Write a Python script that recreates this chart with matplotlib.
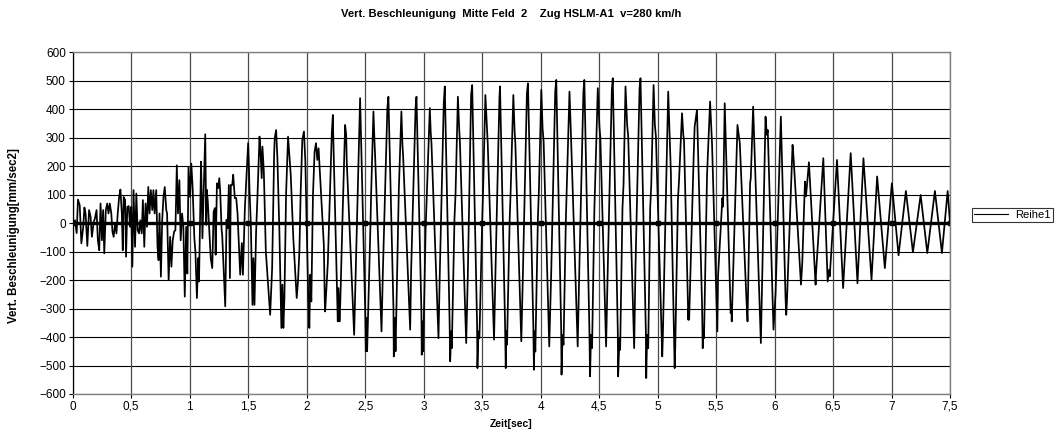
import matplotlib
matplotlib.use("Agg")
import matplotlib.pyplot as plt

plt.rcParams['font.family'] = ['Liberation Sans', 'DejaVu Sans']

title = "Vert. Beschleunigung  Mitte Feld  2    Zug HSLM-A1  v=280 km/h"
x_label = "Zeit[sec]"
y_label = "Vert. Beschleunigung[mm/sec2]"
series_name = "Reihe1"

x_ticks = [0, 0.5, 1, 1.5, 2, 2.5, 3, 3.5, 4, 4.5, 5, 5.5, 6, 6.5, 7, 7.5]
x_tick_labels = ["0", "0,5", "1", "1,5", "2", "2,5", "3", "3,5", "4", "4,5",
                 "5", "5,5", "6", "6,5", "7", "7,5"]
y_ticks = list(range(-600, 601, 100))

# (time [s], acceleration [mm/s2])
seg_0_1 = [(0.000, 0), (0.020, 10), (0.034, -35), (0.045, 83), (0.060, 63), (0.074, -71),
           (0.090, -13), (0.100, 55), (0.110, 34), (0.125, -80), (0.140, 46), (0.153, 22),
           (0.164, -48), (0.180, 5), (0.190, 16), (0.204, 46), (0.215, -60), (0.227, -95),
           (0.238, 69), (0.250, -60), (0.260, 46), (0.270, -106), (0.283, 46), (0.295, 69),
           (0.306, 34), (0.317, 69), (0.330, 34), (0.340, -30), (0.350, -48), (0.363, 0),
           (0.374, -36), (0.385, 34), (0.397, 92), (0.408, 118), (0.420, 34), (0.428, -95),
           (0.436, 92), (0.448, 81), (0.456, -118), (0.467, 57), (0.479, 60), (0.490, -13),
           (0.500, 57), (0.510, -153), (0.520, 116), (0.533, -83), (0.544, 104), (0.555, -25),
           (0.567, -36), (0.578, 10), (0.590, -36), (0.600, 81), (0.612, -83), (0.623, 69),
           (0.635, -13), (0.646, 127), (0.657, 34), (0.668, 116), (0.680, 46), (0.690, 116),
           (0.700, 34), (0.714, 116), (0.725, -83), (0.734, -130), (0.742, 34), (0.754, -188),
           (0.765, 10), (0.776, 92), (0.787, 127), (0.800, 46), (0.807, 34), (0.820, -200),
           (0.833, -48), (0.844, -153), (0.855, -60), (0.867, -30), (0.878, -25), (0.890, 203),
           (0.900, 34), (0.912, 151), (0.923, -60), (0.935, 34), (0.946, -13), (0.958, -258),
           (0.970, -13), (0.980, -177), (0.990, 198), (1.003, 92), (1.014, 209), (1.025, 127),
           (1.037, -13)]

seg_1_2 = [(1.040, -53), (1.049, -100), (1.062, -263), (1.073, -123), (1.080, -205),
           (1.097, 216), (1.103, 99), (1.109, -53), (1.133, 312), (1.142, -6), (1.147, 117),
           (1.155, 76), (1.168, -29), (1.180, -123), (1.193, -158), (1.205, 41), (1.216, 53),
           (1.222, -111), (1.233, 140), (1.244, 123), (1.253, 158), (1.261, 111), (1.273, -23),
           (1.278, -41), (1.304, -292), (1.315, 12), (1.324, -18), (1.335, 134), (1.344, -193),
           (1.352, 134), (1.364, 134), (1.372, 170), (1.386, 88), (1.398, 88), (1.409, 35),
           (1.432, -181), (1.446, -70), (1.455, -181), (1.472, 53), (1.489, 193), (1.500, 281),
           (1.506, 205), (1.511, 123), (1.523, -6), (1.537, -287), (1.545, -123), (1.554, -287),
           (1.568, -29), (1.580, 99), (1.597, 304), (1.605, 257), (1.616, 158), (1.622, 269),
           (1.634, 181), (1.651, -99), (1.670, -216), (1.688, -322), (1.705, -158), (1.722, 240),
           (1.727, 298), (1.739, 327), (1.750, 228), (1.767, -29), (1.784, -368), (1.793, -216),
           (1.801, -368), (1.810, -263), (1.824, 99), (1.841, 304), (1.852, 240), (1.864, 170),
           (1.886, -53), (1.909, -216), (1.915, -263), (1.926, -205), (1.938, -99), (1.949, 111),
           (1.963, 292), (1.977, 322), (1.989, 216), (2.000, -6), (2.014, -263), (2.023, -368),
           (2.031, -181), (2.040, -275), (2.054, 99), (2.068, 251), (2.080, 281), (2.091, 222),
           (2.102, 263)]

seg_2_3 = [(2.147, -76), (2.155, -275), (2.158, -310), (2.175, -181), (2.181, -140),
           (2.215, 316), (2.224, 380), (2.227, 316), (2.266, -345), (2.272, -228), (2.281, -345),
           (2.287, -287), (2.301, -64), (2.309, 53), (2.329, 345), (2.338, 310), (2.343, 216),
           (2.406, -392), (2.418, -193), (2.452, 380), (2.457, 439), (2.500, -298), (2.506, -450),
           (2.511, -333), (2.517, -450), (2.546, 0), (2.551, 99), (2.571, 392), (2.580, 287),
           (2.585, 240), (2.640, -380), (2.651, -181), (2.690, 404), (2.699, 444), (2.742, -298),
           (2.745, -468), (2.754, -333), (2.760, -450), (2.782, 0), (2.788, 117), (2.810, 392),
           (2.819, 275), (2.825, 234), (2.885, -374), (2.893, -170), (2.931, 404), (2.939, 444),
           (2.981, -310), (2.984, -462), (2.993, -345), (2.996, -450), (3.018, -6), (3.027, 94),
           (3.053, 404), (3.061, 316), (3.067, 281), (3.127, -404), (3.138, -181), (3.172, 420),
           (3.181, 480)]

seg_3_4 = [(3.222, -345), (3.227, -485), (3.236, -380), (3.241, -439), (3.264, 18),
           (3.273, 105), (3.293, 444), (3.304, 333), (3.310, 287), (3.364, -421), (3.378, -181),
           (3.406, 450), (3.415, 485), (3.457, -357), (3.460, -509), (3.469, -380), (3.477, -404),
           (3.500, -6), (3.509, 123), (3.528, 450), (3.543, 327), (3.548, 281), (3.602, -409),
           (3.614, -175), (3.648, 439), (3.653, 480), (3.696, -351), (3.702, -509), (3.707, -380),
           (3.713, -427), (3.736, 18), (3.744, 111), (3.767, 450), (3.778, 322), (3.784, 281),
           (3.835, -415), (3.849, -175), (3.883, 456), (3.892, 491), (3.938, -363), (3.943, -515),
           (3.949, -380), (3.955, -451), (3.977, 18), (3.986, 123), (4.006, 468), (4.017, 333),
           (4.026, 287), (4.074, -433), (4.091, -170), (4.125, 462), (4.134, 503), (4.176, -374),
           (4.179, -532), (4.188, -392), (4.196, -427), (4.216, 12), (4.224, 129), (4.247, 462)]

seg_4_5 = [(4.260, 304), (4.317, -433), (4.331, -164), (4.366, 462), (4.374, 503),
           (4.417, -374), (4.423, -538), (4.431, -392), (4.440, -439), (4.460, 53), (4.466, 135),
           (4.489, 474), (4.503, 339), (4.511, 298), (4.560, -433), (4.574, -164), (4.609, 468),
           (4.617, 509), (4.660, -380), (4.663, -538), (4.674, -404), (4.680, -445), (4.700, 53),
           (4.709, 135), (4.726, 480), (4.740, 345), (4.749, 304), (4.800, -439), (4.811, -158),
           (4.846, 474), (4.854, 509), (4.900, -386), (4.903, -544), (4.911, -392), (4.920, -439),
           (4.937, 53), (4.946, 135), (4.966, 485), (4.977, 345), (4.986, 304), (5.040, -468),
           (5.045, -400), (5.091, 462), (5.114, 174), (5.117, 90), (5.146, -509), (5.151, -440),
           (5.174, 82), (5.183, 146), (5.209, 386), (5.220, 310), (5.226, 292), (5.260, -275),
           (5.263, -339), (5.266, -300), (5.270, -339), (5.309, 240), (5.317, 339), (5.337, 398)]

seg_5_6 = [(5.380, -281), (5.386, -439), (5.391, -368), (5.397, -404), (5.423, 170),
           (5.449, 427), (5.466, 275), (5.511, -380), (5.517, -187), (5.554, 88), (5.560, 58),
           (5.574, 421), (5.625, -316), (5.631, -287), (5.634, -345), (5.683, 345), (5.703, 281),
           (5.760, -270), (5.769, -345), (5.791, 140), (5.797, 158), (5.817, 409), (5.883, -421),
           (5.923, 374), (5.934, 310), (5.942, 327), (5.991, -374), (6.009, -245), (6.054, 374),
           (6.094, -263), (6.100, -322), (6.106, -275), (6.154, 275), (6.163, 228), (6.226, -216),
           (6.237, -140), (6.260, 146), (6.269, 94), (6.294, 214), (6.351, -216), (6.354, -181),
           (6.417, 228)]

seg_6_75 = [(6.454, -205), (6.466, -164), (6.472, -187), (6.534, 222), (6.586, -228),
            (6.651, 246), (6.709, -211), (6.760, 228), (6.829, -199), (6.877, 164),
            (6.943, -158), (7.003, 140), (7.060, -113), (7.123, 113), (7.183, -102),
            (7.249, 99), (7.306, -105), (7.371, 113), (7.431, -105), (7.480, 113), (7.500, 0)]

segments = [seg_0_1, seg_1_2, seg_2_3, seg_3_4, seg_4_5, seg_5_6, seg_6_75]
time = [p[0] for seg in segments for p in seg]
accel = [p[1] for seg in segments for p in seg]

W, H = 1059, 432
fig = plt.figure(figsize=(W / 100, H / 100), dpi=100)
L, R, T, B = 72.7, 950, 52.3, 394
ax = fig.add_axes([L / W, 1 - B / H, (R - L) / W, (B - T) / H])

ax.set_xlim(0, 7.5)
ax.set_ylim(-600, 600)
ax.set_xticks(x_ticks)
ax.set_xticklabels(x_tick_labels)
ax.set_yticks(y_ticks)
ax.tick_params(axis='both', labelsize=8.5, length=3, width=0.8, pad=2, color='black')

for y in y_ticks:
    ax.axhline(y, color='black', lw=0.8, zorder=1)
for x in x_ticks:
    ax.axvline(x, color='#4a4a4a', lw=0.9, zorder=1)

# thick horizontal axis at zero with tick marks
ax.plot([0, 7.5], [0, 0], color='black', lw=2.4, zorder=2, solid_capstyle='butt')
ax.plot(x_ticks, [0] * len(x_ticks), ls='none', marker='s', ms=2.4, color='black', zorder=2)

ax.plot(time, accel, color='black', lw=1.25, zorder=3, label=series_name)

for s in ['top', 'right', 'bottom']:
    ax.spines[s].set_color('#808080')
    ax.spines[s].set_linewidth(1.0)
ax.spines['left'].set_color('black')
ax.spines['left'].set_linewidth(0.9)

fig.text((L + R) / 2 / W, 1 - 14 / H, title, ha='center', va='center',
         fontsize=8.1, fontweight='bold')
fig.text((L + R) / 2 / W, 1 - 424 / H, x_label, ha='center', va='center',
         fontsize=7.5, fontweight='bold')
fig.text(14 / W, 1 - 236 / H, y_label, ha='center', va='center', rotation=90,
         fontsize=8.3, fontweight='bold')

leg = fig.legend(loc='center left', bbox_to_anchor=(972 / W, 1 - 215 / H),
                 bbox_transform=fig.transFigure, fontsize=8, frameon=True,
                 fancybox=False, borderpad=0.2, handlelength=3.0, handletextpad=0.7,
                 borderaxespad=0)
leg.get_frame().set_edgecolor('black')
leg.get_frame().set_linewidth(0.8)
for line in leg.get_lines():
    line.set_linewidth(0.8)

fig.savefig('out.png', dpi=100)
